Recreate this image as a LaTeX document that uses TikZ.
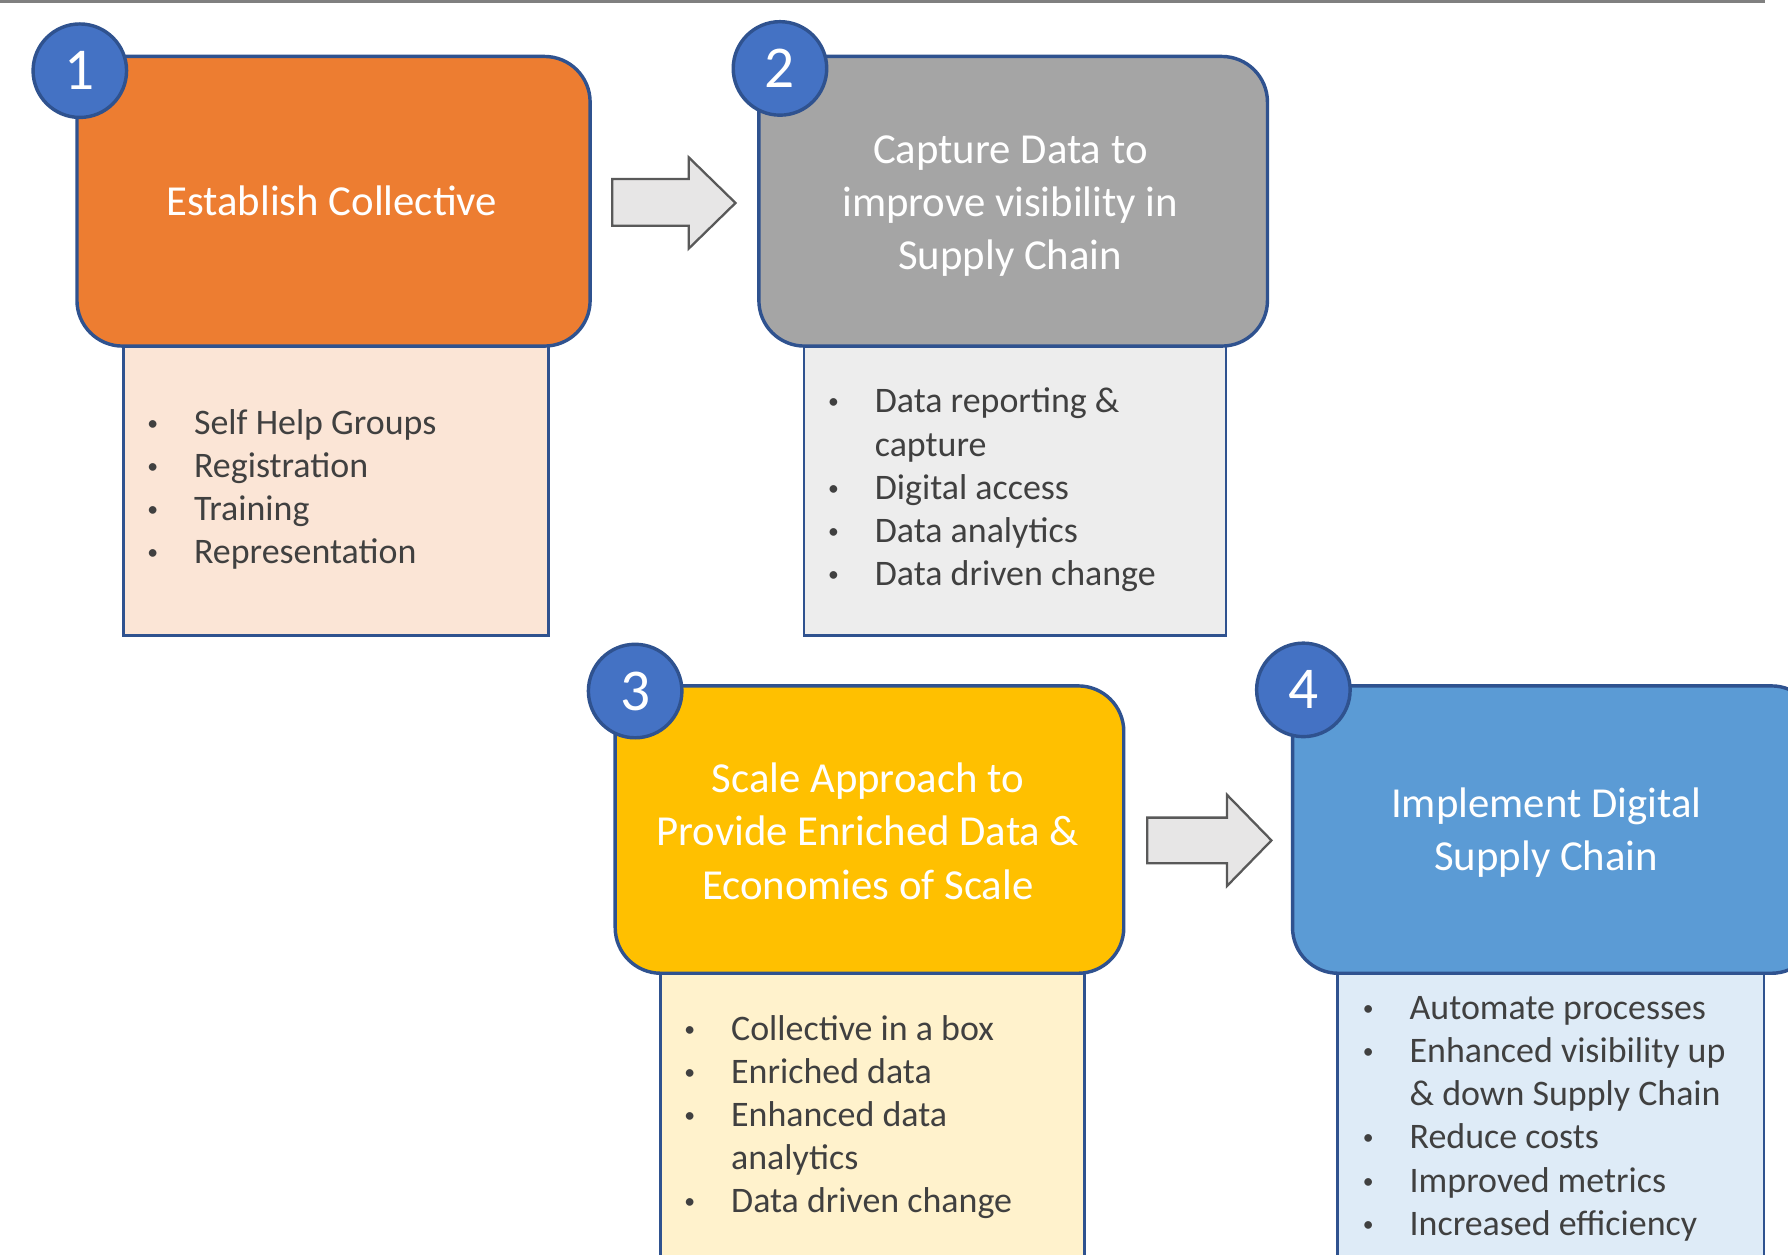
\documentclass[tikz,border=0pt]{standalone}
\usepackage{fontspec}
\setmainfont{Carlito}
\definecolor{navy}{HTML}{2F528F}
\definecolor{circblue}{HTML}{4472C4}
\definecolor{c1}{HTML}{ED7D31}
\definecolor{c2}{HTML}{A5A5A5}
\definecolor{c3}{HTML}{FFC000}
\definecolor{c4}{HTML}{5B9BD5}
\definecolor{f1}{HTML}{FBE5D6}
\definecolor{f2}{HTML}{EDEDED}
\definecolor{f3}{HTML}{FFF2CC}
\definecolor{f4}{HTML}{DEEBF7}
\definecolor{txtgray}{HTML}{404040}
\definecolor{arrfill}{HTML}{E7E6E6}
\definecolor{arrline}{HTML}{595959}
\newcommand\bl[1]{\strut\makebox[43pt][l]{\hspace*{2pt}\raisebox{3.5pt}{\fontsize{19}{19}\selectfont •}}#1}
\newcommand\bc[1]{\strut\hspace*{43pt}#1}
\tikzset{
  hdr/.style={draw=navy, line width=3pt, rounded corners=40pt, anchor=north west, inner sep=0pt},
  bodybox/.style={draw=navy, line width=2.2pt, anchor=north west, inner sep=0pt},
  htext/.style={text=white, align=center, inner sep=0pt, font=\fontsize{37.5}{46.5}\selectfont},
  listtext/.style={anchor=north west, inner sep=0pt, align=left, text=txtgray, font=\fontsize{31.5}{37.8}\selectfont},
  numcirc/.style={circle, fill=circblue, draw=navy, line width=3pt, minimum size=82pt, inner sep=0pt, text=white, font=\fontsize{52}{60}\selectfont},
  blockarrow/.style={fill=arrfill, draw=arrline, line width=2pt, line join=miter},
}
\begin{document}
\begin{tikzpicture}[x=1pt,y=-1pt]
\useasboundingbox (0,0) rectangle (1568,1100);
\fill[white] (0,0) rectangle (1568,1100);
\draw[gray, line width=2.5pt] (0,1.2) -- (1548,1.2);

% bodies
\node[bodybox, fill=f1, minimum width=373pt, minimum height=254pt] (b1) at (107,302) {};
\node[bodybox, fill=f2, minimum width=370pt, minimum height=254pt] (b2) at (704,302) {};
\node[bodybox, fill=f3, minimum width=372pt, minimum height=270pt] (b3) at (578,852) {};
\node[bodybox, fill=f4, minimum width=374pt, minimum height=270pt] (b4) at (1172,852) {};

% headers
\node[hdr, fill=c1, minimum width=450pt, minimum height=254pt] (h1) at (66,48) {};
\node[hdr, fill=c2, minimum width=446pt, minimum height=254pt] (h2) at (664,48) {};
\node[hdr, fill=c3, minimum width=446pt, minimum height=252pt] (h3) at (538,600) {};
\node[hdr, fill=c4, minimum width=460pt, minimum height=252pt] (h4) at (1132,600) {};

% header texts
\node[htext] (t1) at (291,176) {Establish Collective};
\node[htext] (t2) at (886,181) {Capture Data to\\improve visibility in\\Supply Chain};
\node[htext] (t3) at (761,729) {Scale Approach to\\Provide Enriched Data \&\\Economies of Scale};
\node[htext] (t4) at (1356,730) {Implement Digital\\Supply Chain};

% lists
\node[listtext] (l1) at (127,354.5) {\bl{Self Help Groups}\\\bl{Registration}\\\bl{Training}\\\bl{Representation}};
\node[listtext] (l2) at (724,335.5) {\bl{Data reporting \&}\\\bc{capture}\\\bl{Digital access}\\\bl{Data analytics}\\\bl{Data driven change}};
\node[listtext] (l3) at (598,885.5) {\bl{Collective in a box}\\\bl{Enriched data}\\\bl{Enhanced data}\\\bc{analytics}\\\bl{Data driven change}};
\node[listtext] (l4) at (1193,867.5) {\bl{Automate processes}\\\bl{Enhanced visibility up}\\\bc{\& down Supply Chain}\\\bl{Reduce costs}\\\bl{Improved metrics}\\\bl{Increased efficiency}};

% number circles
\node[numcirc] (n1) at (70,62) {1};
\node[numcirc] (n2) at (684,60) {2};
\node[numcirc] (n3) at (557,606) {3};
\node[numcirc] (n4) at (1143,605) {4};

% block arrows
\draw[blockarrow] (537,157) -- (604,157) -- (604,138) -- (645,178) -- (604,218) -- (604,198) -- (537,198) -- cycle;
\draw[blockarrow] (1006,717) -- (1076,717) -- (1076,697) -- (1115,737) -- (1076,777) -- (1076,757) -- (1006,757) -- cycle;
\end{tikzpicture}
\end{document}
